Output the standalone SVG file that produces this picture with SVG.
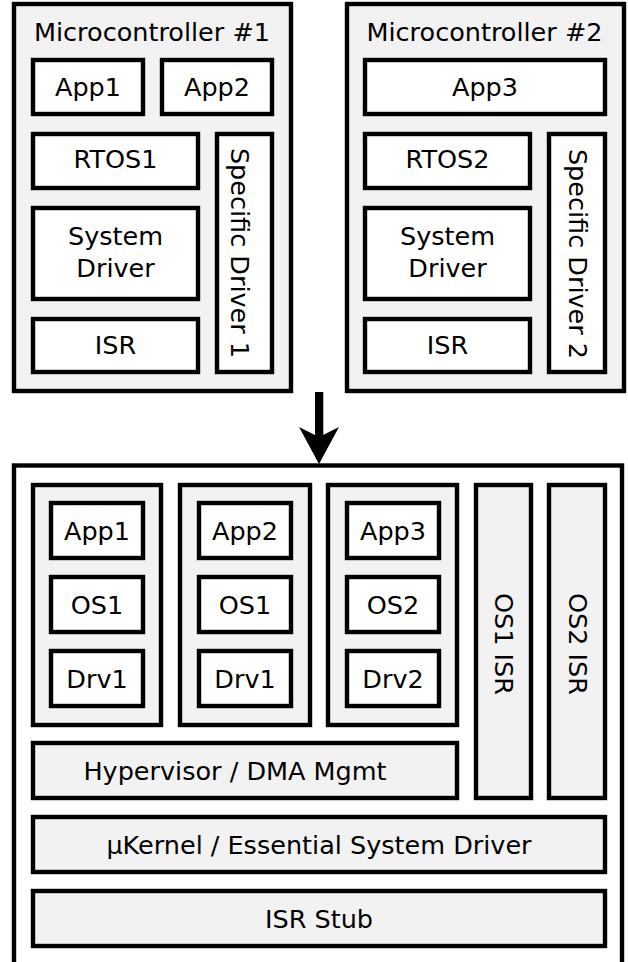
<svg xmlns="http://www.w3.org/2000/svg" width="628" height="962" viewBox="0 0 628 962">
<style>
.g,.w{stroke:#000;stroke-width:4.4}
.g{fill:#f2f2f2}
.w{fill:#fff}
text{font-family:"DejaVu Sans","Liberation Sans",sans-serif;font-size:25.5px;fill:#000;text-anchor:middle}
</style>
<rect x="0" y="0" width="628" height="962" fill="#fff"/>
<g id="mc1">
<rect class="g" x="14" y="4" width="277" height="387"/>
<text x="152" y="40.5">Microcontroller #1</text>
</g>
<g id="mc1-app1"><rect class="w" x="33" y="60" width="110" height="54"/><text x="88" y="95.5">App1</text></g>
<g id="mc1-app2"><rect class="w" x="162" y="60" width="110" height="54"/><text x="217" y="95.5">App2</text></g>
<g id="mc1-rtos1"><rect class="w" x="33" y="134" width="165" height="54"/><text x="115.5" y="168">RTOS1</text></g>
<g id="mc1-sysdrv"><rect class="w" x="33" y="208" width="165" height="91"/><text x="115.5" y="245">System</text><text x="115.5" y="277">Driver</text></g>
<g id="mc1-isr"><rect class="w" x="33" y="319" width="165" height="53"/><text x="115.5" y="354">ISR</text></g>
<g id="mc1-specdrv"><rect class="w" x="217" y="134" width="55" height="238"/><text transform="translate(231,253) rotate(90)">Specific Driver 1</text></g>

<g id="mc2">
<rect class="g" x="347" y="4" width="277" height="387"/>
<text x="484.5" y="40.5">Microcontroller #2</text>
</g>
<g id="mc2-app3"><rect class="w" x="365" y="60" width="240" height="54"/><text x="485" y="95.5">App3</text></g>
<g id="mc2-rtos2"><rect class="w" x="365" y="134" width="165" height="54"/><text x="447.5" y="168">RTOS2</text></g>
<g id="mc2-sysdrv"><rect class="w" x="365" y="208" width="165" height="91"/><text x="447.5" y="245">System</text><text x="447.5" y="277">Driver</text></g>
<g id="mc2-isr"><rect class="w" x="365" y="319" width="165" height="53"/><text x="447.5" y="354">ISR</text></g>
<g id="mc2-specdrv"><rect class="w" x="549" y="134" width="56" height="238"/><text transform="translate(568.5,254) rotate(90)">Specific Driver 2</text></g>

<g id="soc">
<rect class="w" x="14" y="465.5" width="608" height="520"/>
</g>
<g id="part1"><rect class="g" x="33" y="485" width="128" height="240"/></g>
<g id="part1-app1"><rect class="w" x="51" y="503" width="92" height="55"/><text x="97" y="539.5">App1</text></g>
<g id="part1-os1"><rect class="w" x="51" y="577" width="92" height="55"/><text x="97" y="613.5">OS1</text></g>
<g id="part1-drv1"><rect class="w" x="51" y="651" width="92" height="55"/><text x="97" y="687.5">Drv1</text></g>

<g id="part2"><rect class="g" x="180" y="485" width="130" height="240"/></g>
<g id="part2-app2"><rect class="w" x="199" y="503" width="92" height="55"/><text x="245" y="539.5">App2</text></g>
<g id="part2-os1"><rect class="w" x="199" y="577" width="92" height="55"/><text x="245" y="613.5">OS1</text></g>
<g id="part2-drv1"><rect class="w" x="199" y="651" width="92" height="55"/><text x="245" y="687.5">Drv1</text></g>

<g id="part3"><rect class="g" x="328" y="485" width="129" height="240"/></g>
<g id="part3-app3"><rect class="w" x="347" y="503" width="92" height="55"/><text x="393" y="539.5">App3</text></g>
<g id="part3-os2"><rect class="w" x="347" y="577" width="92" height="55"/><text x="393" y="613.5">OS2</text></g>
<g id="part3-drv2"><rect class="w" x="347" y="651" width="92" height="55"/><text x="393" y="687.5">Drv2</text></g>

<g id="os1isr"><rect class="g" x="476" y="485" width="55" height="313"/><text transform="translate(495,644) rotate(90)">OS1 ISR</text></g>
<g id="os2isr"><rect class="g" x="549" y="485" width="56" height="313"/><text transform="translate(568.5,644) rotate(90)">OS2 ISR</text></g>
<g id="hypervisor"><rect class="g" x="33" y="743" width="424" height="55"/><text x="235" y="779.5">Hypervisor / DMA Mgmt</text></g>
<g id="ukernel"><rect class="g" x="33" y="817" width="572" height="55"/><text x="319" y="854">µKernel / Essential System Driver</text></g>
<g id="isrstub"><rect class="g" x="33" y="891" width="572" height="55"/><text x="319" y="928">ISR Stub</text></g>

<g id="connectors">
<rect x="315" y="392" width="8.3" height="46" fill="#000"/>
<path d="M299,427 L319,437 L339,427 L319,464 Z" fill="#000"/>
</g>
</svg>
